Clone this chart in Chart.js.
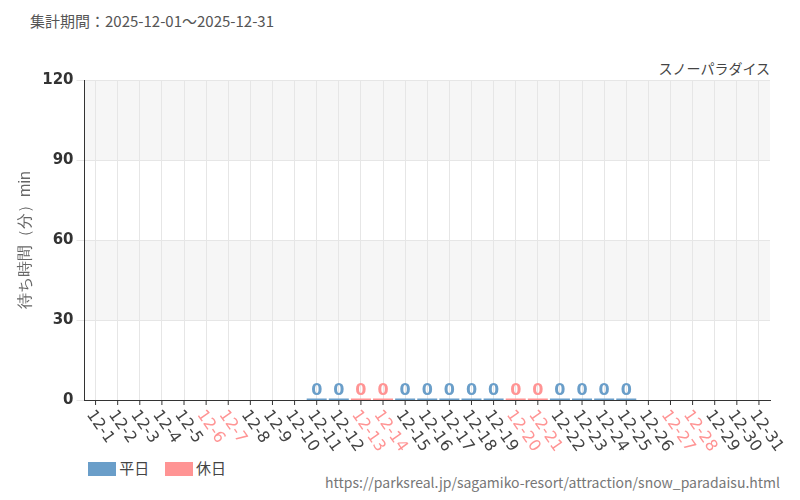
<!DOCTYPE html>
<html><head><meta charset="utf-8">
<script src="https://cdn.jsdelivr.net/npm/chart.js"></script>
<style>body{margin:0;background:#fff;font-family:"Noto Sans CJK JP","Noto Sans",sans-serif}
#wrap{position:relative;width:800px;height:500px}
.t{position:absolute;color:#555;font-size:15px}
</style></head><body>
<div id="wrap">
<div class="t" style="left:30px;top:10px">集計期間：2025-12-01～2025-12-31</div>
<div class="t" style="right:30px;top:58px;font-size:14px;color:#444">スノーパラダイス</div>
<div class="t" style="left:88px;top:457px;font-size:15px;color:#444"><span style="display:inline-block;width:28px;height:14px;background:#6a9ec9;vertical-align:-2px"></span> 平日 <span style="display:inline-block;width:28px;height:14px;background:#ff9494;vertical-align:-2px;margin-left:12px"></span> 休日</div>
<div class="t" style="right:20px;top:472px;font-size:14px;color:#777">https://parksreal.jp/sagamiko-resort/attraction/snow_paradaisu.html</div>
<canvas id="c" width="800" height="500" style="position:absolute;left:0;top:0"></canvas>
</div>
<script>
var labels = [];
for (var d = 1; d <= 31; d++) labels.push("12-" + d);
var holidays = [6,7,13,14,20,21,27,28];
// wait times (min); null = no data
var waits = [null,null,null,null,null,null,null,null,null,null,
  0,0,0,0,0,0,0,0,0,0,0,0,0,0,0,
  null,null,null,null,null,null];
var yTicks = [0,30,60,90,120];

var blue = "#6a9ec9", red = "#ff9494";
function colorFor(i){ return holidays.indexOf(i+1) >= 0 ? red : blue; }

var bands = {
  id: "bands",
  beforeDraw: function (ch) {
    var a = ch.chartArea, y = ch.scales.y, ctx = ch.ctx;
    ctx.save(); ctx.fillStyle = "#f6f6f6";
    [[30,60],[90,120]].forEach(function (b) {
      ctx.fillRect(a.left, y.getPixelForValue(b[1]), a.right - a.left, y.getPixelForValue(b[0]) - y.getPixelForValue(b[1]));
    });
    ctx.restore();
  },
  afterDraw: function (ch) {
    var ctx = ch.ctx, meta = ch.getDatasetMeta(0), x = ch.scales.x, a = ch.chartArea;
    ctx.save();
    ctx.font = "bold 16px 'DejaVu Sans'"; ctx.textAlign = "center"; ctx.textBaseline = "bottom";
    meta.data.forEach(function (bar, i) {
      if (waits[i] === null) return;
      ctx.fillStyle = colorFor(i);
      ctx.fillRect(bar.x - 10, bar.y - 1.5, 20, 1.5);
      ctx.fillText(String(waits[i]), bar.x, bar.y - 1);
    });
    // x labels slanting down-right
    ctx.font = "16px 'DejaVu Sans'"; ctx.textAlign = "left"; ctx.textBaseline = "middle";
    labels.forEach(function (l, i) {
      var px = x.getPixelForValue(i);
      ctx.save();
      ctx.translate(px - 6, a.bottom + 12);
      ctx.rotate(55 * Math.PI / 180);
      ctx.fillStyle = colorFor(i) === red ? red : "#444";
      ctx.fillText(l, 0, 0);
      ctx.restore();
      ctx.strokeStyle = "#333"; ctx.lineWidth = 1;
      ctx.beginPath(); ctx.moveTo(px, a.bottom); ctx.lineTo(px, a.bottom + 5); ctx.stroke();
    });
    ctx.restore();
  }
};

new Chart(document.getElementById("c"), {
  type: "bar",
  data: { labels: labels, datasets: [{ data: waits, backgroundColor: waits.map(function(v,i){return colorFor(i);}) }] },
  options: {
    responsive: false, animation: false,
    layout: { padding: { left: 12, right: 30, top: 80, bottom: 100 } },
    plugins: { legend: { display: false }, tooltip: { enabled: false } },
    scales: {
      x: {
        grid: { color: "#e6e6e6", offset: false, drawTicks: false },
        border: { color: "#333" },
        ticks: { display: false }
      },
      y: {
        min: 0, max: 120,
        afterBuildTicks: function (s) { s.ticks = yTicks.map(function(v){return {value:v};}); },
        grid: { color: "#e6e6e6" },
        border: { color: "#333" },
        ticks: { color: "#333", font: { size: 15, weight: "bold", family: "DejaVu Sans" } },
        title: { display: true, text: "待ち時間（分）min", color: "#666", font: { size: 16 } }
      }
    }
  },
  plugins: [bands]
});
</script>
</body></html>
